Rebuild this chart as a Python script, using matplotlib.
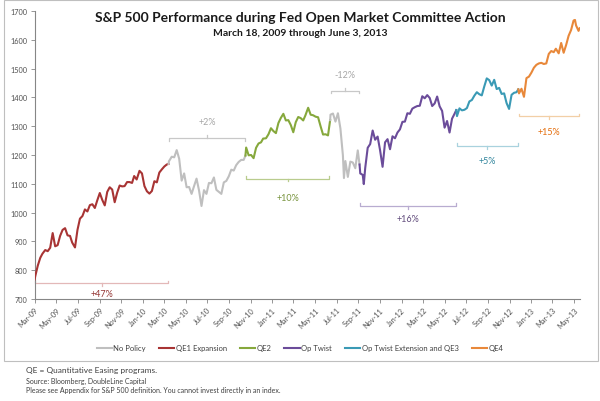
import matplotlib
matplotlib.use('Agg')
import matplotlib.pyplot as plt
import matplotlib.dates as mdates
import numpy as np
import pandas as pd
from matplotlib.lines import Line2D
from matplotlib.patches import Rectangle

plt.rcParams['font.family'] = ['Lato', 'DejaVu Sans']

# S&P 500 closes (roughly weekly)
dates_2009 = ['03-18', '03-20', '03-27', '04-03', '04-09', '04-17', '04-24', '05-01', '05-08', '05-15',
              '05-22', '05-29', '06-05', '06-12', '06-19', '06-26', '07-02', '07-10', '07-17', '07-24',
              '07-31', '08-07', '08-14', '08-21', '08-28', '09-04', '09-11', '09-18', '09-25', '10-02',
              '10-09', '10-16', '10-23', '10-30', '11-06', '11-13', '11-20', '11-27', '12-04', '12-11',
              '12-18', '12-24', '12-31']
close_2009 = [768, 780, 816, 843, 857, 870, 866, 878, 929, 883,
              887, 919, 940, 946, 921, 919, 896, 879, 940, 979,
              988, 1011, 1004, 1026, 1029, 1016, 1043, 1068, 1044, 1025,
              1072, 1088, 1080, 1036, 1069, 1094, 1091, 1092, 1106, 1106,
              1103, 1127, 1115]

dates_2010 = ['01-08', '01-15', '01-22', '01-29', '02-05', '02-12', '02-19', '02-26', '03-05', '03-12',
              '03-19', '03-26', '03-31', '04-01', '04-09', '04-16', '04-23', '04-30', '05-07', '05-14',
              '05-21', '05-28', '06-04', '06-11', '06-18', '06-25', '07-02', '07-09', '07-16', '07-23',
              '07-30', '08-06', '08-13', '08-20', '08-27', '09-03', '09-10', '09-17', '09-24', '10-01',
              '10-08', '10-15', '10-22', '10-29', '11-03', '11-05', '11-12', '11-19', '11-26', '12-03',
              '12-10', '12-17', '12-23', '12-31']
close_2010 = [1145, 1136, 1092, 1074, 1066, 1075, 1109, 1105, 1139, 1150,
              1160, 1167, 1169, 1178, 1194, 1192, 1217, 1187, 1111, 1136,
              1088, 1089, 1065, 1092, 1118, 1077, 1023, 1078, 1065, 1103,
              1102, 1122, 1079, 1072, 1065, 1105, 1110, 1126, 1149, 1146,
              1165, 1176, 1183, 1183, 1198, 1226, 1199, 1200, 1189, 1225,
              1240, 1244, 1257, 1258]

dates_2011 = ['01-07', '01-14', '01-21', '01-28', '02-04', '02-11', '02-18', '02-25', '03-04', '03-11',
              '03-18', '03-25', '04-01', '04-08', '04-15', '04-21', '04-29', '05-06', '05-13', '05-20',
              '05-27', '06-03', '06-10', '06-17', '06-24', '06-30', '07-01', '07-08', '07-15', '07-22',
              '07-29', '08-05', '08-08', '08-12', '08-19', '08-26', '09-02', '09-09', '09-16', '09-21',
              '09-23', '09-30', '10-03', '10-07', '10-14', '10-21', '10-28', '11-04', '11-11', '11-18',
              '11-25', '12-02', '12-09', '12-16', '12-23', '12-30']
close_2011 = [1272, 1293, 1283, 1276, 1311, 1329, 1343, 1320, 1321, 1304,
              1279, 1314, 1332, 1328, 1320, 1337, 1364, 1340, 1338, 1333,
              1331, 1300, 1271, 1272, 1268, 1321, 1340, 1344, 1316, 1345,
              1292, 1199, 1120, 1179, 1124, 1177, 1174, 1154, 1216, 1167,
              1136, 1131, 1099, 1155, 1225, 1238, 1285, 1253, 1264, 1216,
              1159, 1244, 1255, 1220, 1265, 1258]

dates_2012 = ['01-06', '01-13', '01-20', '01-27', '02-03', '02-10', '02-17', '02-24', '03-02', '03-09',
              '03-16', '03-23', '03-30', '04-06', '04-13', '04-20', '04-27', '05-04', '05-11', '05-18',
              '05-25', '06-01', '06-08', '06-15', '06-20', '06-22', '06-29', '07-06', '07-13', '07-20',
              '07-27', '08-03', '08-10', '08-17', '08-24', '08-31', '09-07', '09-14', '09-21', '09-28',
              '10-05', '10-12', '10-19', '10-26', '11-02', '11-09', '11-16', '11-23', '11-30', '12-07',
              '12-12', '12-14', '12-21', '12-28']
close_2012 = [1278, 1289, 1315, 1316, 1345, 1343, 1361, 1366, 1370, 1371,
              1404, 1397, 1408, 1398, 1370, 1379, 1403, 1369, 1353, 1295,
              1318, 1278, 1326, 1343, 1356, 1335, 1362, 1355, 1357, 1363,
              1386, 1391, 1406, 1418, 1411, 1407, 1438, 1466, 1460, 1441,
              1461, 1429, 1433, 1412, 1414, 1380, 1360, 1409, 1416, 1418,
              1428, 1414, 1430, 1402]

dates_2013 = ['01-04', '01-11', '01-18', '01-25', '02-01', '02-08', '02-15', '02-22', '03-01', '03-08',
              '03-15', '03-22', '03-28', '04-05', '04-12', '04-19', '04-26', '05-03', '05-10', '05-17',
              '05-21', '05-24', '05-31', '06-03']
close_2013 = [1467, 1472, 1486, 1503, 1513, 1518, 1520, 1516, 1518, 1551,
              1561, 1557, 1569, 1553, 1589, 1555, 1582, 1614, 1634, 1667,
              1669, 1650, 1631, 1640]

# policy phases
phase_names = ['QE1 Expansion', 'No Policy', 'QE2', 'No Policy', 'Op Twist',
               'Op Twist Extension and QE3', 'QE4']
phase_bounds = ['2009-03-18', '2010-03-31', '2010-11-03', '2011-06-30', '2011-09-21',
                '2012-06-20', '2012-12-12', '2013-06-03']
phase_moves = ['+47%', '+2%', '+10%', '-12%', '+16%', '+5%', '+15%']
legend_order = ['No Policy', 'QE1 Expansion', 'QE2', 'Op Twist', 'Op Twist Extension and QE3', 'QE4']

line_colors = {'No Policy': '#bfbfbf', 'QE1 Expansion': '#a83434', 'QE2': '#86a83c',
               'Op Twist': '#6b4c9a', 'Op Twist Extension and QE3': '#3a9ab5', 'QE4': '#e8883a'}
brace_colors = {'No Policy': '#c8c8c8', 'QE1 Expansion': '#e3b8b8', 'QE2': '#b9cc8e',
                'Op Twist': '#b8acd0', 'Op Twist Extension and QE3': '#a9d2de', 'QE4': '#f2cfa6'}
text_colors = {'No Policy': '#a6a6a6', 'QE1 Expansion': '#953735', 'QE2': '#77933c',
               'Op Twist': '#604a7b', 'Op Twist Extension and QE3': '#31859c', 'QE4': '#e46c0a'}

# brace placement (y of brace, y of label, +1 = brace above the line)
brace_y = [755, 1259, 1117, 1423, 1023, 1231, 1335]
label_y = [720, 1315, 1051, 1481, 978, 1180, 1283]
brace_side = [-1, 1, -1, 1, -1, -1, -1]

dates = pd.to_datetime(['2009-' + d for d in dates_2009] + ['2010-' + d for d in dates_2010] +
                       ['2011-' + d for d in dates_2011] + ['2012-' + d for d in dates_2012] +
                       ['2013-' + d for d in dates_2013])
closes = np.array(close_2009 + close_2010 + close_2011 + close_2012 + close_2013, dtype=float)
bounds = pd.to_datetime(phase_bounds)

fig = plt.figure(figsize=(6, 4.02), dpi=100)
ax = fig.add_axes([34.6 / 600, 1 - 300 / 402, 545 / 600, 288 / 402])

for i, name in enumerate(phase_names):
    m = (dates >= bounds[i]) & (dates <= bounds[i + 1])
    ax.plot(dates[m], closes[m], color=line_colors[name], lw=1.5, solid_joinstyle='round', zorder=3)

    # brace with the move over the phase
    x0 = mdates.date2num(bounds[i]) + 2
    x1 = mdates.date2num(bounds[i + 1]) - 2
    xc = (x0 + x1) / 2
    y = brace_y[i]
    s = brace_side[i]
    h = 9
    ax.plot([x0, x0, x1, x1], [y - s * h, y, y, y - s * h], color=brace_colors[name],
            lw=0.9, clip_on=False, zorder=2)
    ax.plot([xc, xc], [y, y + s * h], color=brace_colors[name], lw=0.9, clip_on=False, zorder=2)
    ax.text(xc, label_y[i], phase_moves[i], ha='center', va='center', fontsize=6.5,
            color=text_colors[name])

ax.set_xlim(mdates.date2num(bounds[0]), mdates.date2num(bounds[-1]))
ax.set_ylim(700, 1700)
ax.set_yticks(range(700, 1701, 100))
ticks = pd.date_range('2009-03-18', '2013-05-18', freq=pd.DateOffset(months=2))
ax.set_xticks(mdates.date2num(ticks))
ax.set_xticklabels([t.strftime('%b-%y') for t in ticks], rotation=45, ha='right',
                   rotation_mode='anchor')

for sp in ['top', 'right']:
    ax.spines[sp].set_visible(False)
for sp in ['left', 'bottom']:
    ax.spines[sp].set_color('#868686')
    ax.spines[sp].set_linewidth(0.8)
ax.tick_params(length=3, width=0.6, color='#868686', labelsize=5.3, labelcolor='#505050', pad=2)

fig.text(0.5, 1 - 18 / 402, 'S&P 500 Performance during Fed Open Market Committee Action',
         ha='center', va='center', fontsize=10, fontweight='bold', color='#1a1a1a')
fig.text(0.5, 1 - 33 / 402, 'March 18, 2009 through June 3, 2013',
         ha='center', va='center', fontsize=7.5, fontweight='bold', color='#1a1a1a')

handles = [Line2D([], [], color=line_colors[n], lw=1.5) for n in legend_order]
fig.legend(handles, legend_order, loc='center', bbox_to_anchor=(0.5, 1 - 349 / 402), ncol=6,
           frameon=False, fontsize=5.5, handlelength=2.0, handletextpad=0.2, columnspacing=1.7,
           labelcolor='#404040')

fig.patches.append(Rectangle((4 / 600, 1 - 362 / 402), 594 / 600, 361 / 402,
                             transform=fig.transFigure, fill=False, ec='#bfbfbf', lw=0.8))

fig.text(26 / 600, 1 - 371 / 402, 'QE = Quantitative Easing programs.', fontsize=6,
         color='#404040', va='center')
fig.text(26 / 600, 1 - 381 / 402, 'Source: Bloomberg, DoubleLine Capital', fontsize=5,
         color='#404040', va='center')
fig.text(26 / 600, 1 - 391 / 402,
         'Please see Appendix for S&P 500 definition. You cannot invest directly in an index.',
         fontsize=5, color='#404040', va='center')

fig.savefig('out.png', dpi=100)
